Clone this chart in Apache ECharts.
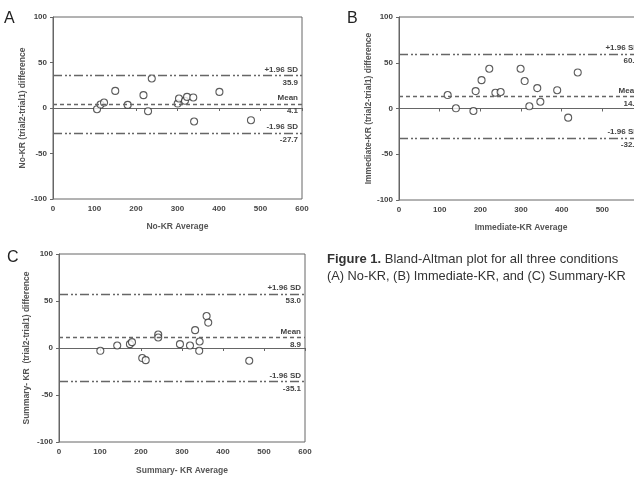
<!DOCTYPE html>
<html><head><meta charset="utf-8">
<script src="https://cdn.jsdelivr.net/npm/echarts@6/dist/echarts.min.js"></script>
<style>html,body{margin:0;padding:0;background:#fff;overflow:hidden}#c{width:660px;height:482px}</style>
</head><body><div id="c"></div>
<script>
// ---- data ----
const xTicks = [0, 600, 100];      // min, max, interval
const yTicks = [-100, 100, 50];

const noKR = [[106,-1.3],[114.5,3.8],[123,6.0],[150,18.8],[180,3.4],[218,14.1],[229,-3.5],[238,32.4],
  [300.5,4.9],[303.6,10.4],[318,8],[323,12.2],[338,11.6],[340,-14.8],[401,17.7],[477,-13.4]];
const immKR = [[119.7,14.7],[140,0.2],[183,-2.7],[188.5,19],[203,31],[222,43.4],[237,17.2],[250,18],
  [299,43.4],[309,30],[320.5,2.4],[340,22.3],[347.6,7.4],[389,20],[416,-10],[439.5,39.4]];
const sumKR = [[100.8,-3.0],[142,2.7],[173,4.1],[178,6.2],[203,-10.7],[211.5,-12.9],[242,14.3],[242,11.2],
  [295,4.1],[319.5,2.7],[332,19],[343,6.9],[342,-3],[360,34],[364,27],[464,-13.6]];

// reference line positions (as drawn) and their printed values
const noKRLines = [35.9, 4.1, -27.7];
const immKRLines = [59.5, 13.3, -32];
const sumKRLines = [57.7, 11.1, -35.5];
const noKRLabels = ['35.9','4.1','-27.7'];
const immKRLabels = ['60.5','14.0','-32.4'];
const sumKRLabels = ['53.0','8.9','-35.1'];
const lineNames = ['+1.96 SD','Mean','-1.96 SD'];

const yAxisNames = ['No-KR (trial2-trial1) difference','Immediate-KR (trial2-trial1) difference','Summary- KR  (trial2-trial1) difference'];
const xAxisNames = ['No-KR Average','Immediate-KR Average','Summary- KR Average'];

// ---- chart ----
const FONT = '"Liberation Sans", Arial, sans-serif';
const grids = [
  {left:53, top:17, width:249, height:182},
  {left:399, top:17, width:244, height:183},
  {left:59, top:254, width:246, height:188}
];
const xNameGap = [23, 23, 24];
const yNameGap = [22, 25, 28];
const lineSets = [noKRLines, immKRLines, sumKRLines];
const labelSets = [noKRLabels, immKRLabels, sumKRLabels];
const dataSets = [noKR, immKR, sumKR];

const tickLbl = {fontFamily:FONT, fontSize:8, fontWeight:'bold', color:'#444'};
const nameSt = {fontFamily:FONT, fontSize:8.5, fontWeight:'bold', color:'#555'};
const xAxis = [], yAxis = [], series = [];
grids.forEach((g, i) => {
  Object.assign(g, {show:true, borderColor:'#666', borderWidth:1, containLabel:false});
  xAxis.push({gridIndex:i, type:'value', min:xTicks[0], max:xTicks[1], interval:xTicks[2],
    name:xAxisNames[i], nameLocation:'middle', nameGap:xNameGap[i], nameTextStyle:nameSt,
    axisLine:{show:true, lineStyle:{color:'#666'}}, axisTick:{show:true, length:3, lineStyle:{color:'#666'}},
    axisLabel:Object.assign({margin:6}, tickLbl), splitLine:{show:false}});
  yAxis.push({gridIndex:i, type:'value', min:yTicks[0], max:yTicks[1], interval:yTicks[2],
    name:yAxisNames[i], nameLocation:'middle', nameGap:yNameGap[i], nameTextStyle:nameSt,
    axisLine:{show:true, lineStyle:{color:'#666'}}, axisTick:{show:true, length:3, lineStyle:{color:'#666'}},
    axisLabel:Object.assign({margin:6}, tickLbl), splitLine:{show:false}});
  const ml = [];
  lineSets[i].forEach((v, k) => {
    const dash = k === 1 ? [4,3] : [9,3,2,2,2,3];
    ml.push({yAxis:v, lineStyle:{type:dash, color:'#666', width:1.3},
      label:{show:true, position:'insideEndTop', formatter:lineNames[k], distance:[4,2],
        fontFamily:FONT, fontSize:8, fontWeight:'bold', color:'#444'}});
    ml.push({yAxis:v + 0.0001, lineStyle:{color:'rgba(0,0,0,0)', width:0},
      label:{show:true, position:'insideEndBottom', formatter:labelSets[i][k], distance:[4,3],
        fontFamily:FONT, fontSize:8, fontWeight:'bold', color:'#444'}});
  });
  series.push({type:'scatter', xAxisIndex:i, yAxisIndex:i, data:dataSets[i], symbol:'circle', symbolSize:7,
    itemStyle:{color:'#fff', borderColor:'#333', borderWidth:1.1},
    markLine:{silent:true, symbol:['none','none'], data:ml, animation:false}, animation:false});
});

const chart = echarts.init(document.getElementById('c'), null, {renderer:'canvas'});
chart.setOption({
  backgroundColor:'#fff', animation:false,
  grid:grids, xAxis, yAxis, series,
  graphic:[
    {type:'text', left:4, top:11, style:{text:'A', font:'16px ' + FONT, fill:'#222'}},
    {type:'text', left:347, top:11, style:{text:'B', font:'16px ' + FONT, fill:'#222'}},
    {type:'text', left:7, top:250, style:{text:'C', font:'16px ' + FONT, fill:'#222'}},
    {type:'text', left:327, top:253, style:{rich:{b:{fontWeight:'bold', fontSize:13, fontFamily:FONT, fill:'#333'}, n:{fontSize:13, fontFamily:FONT, fill:'#333'}},
      text:'{b|Figure 1.}{n| Bland-Altman plot for all three conditions}', fill:'#333'}},
    {type:'text', left:327, top:270, style:{text:'(A) No-KR, (B) Immediate-KR, and (C) Summary-KR', font:'12.8px ' + FONT, fill:'#333'}}
  ]
});
</script></body></html>
